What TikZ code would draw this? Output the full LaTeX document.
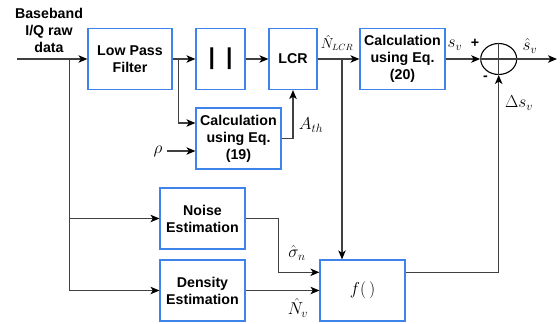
\documentclass[tikz,border=0pt]{standalone}
\usepackage[no-math]{fontspec}
\usepackage{amsmath}
\usetikzlibrary{arrows.meta,positioning,shapes.geometric}

\newfontfamily\arialb{Liberation Sans}
\newcommand\boxfont{\arialb\fontsize{14.2}{17}\selectfont\bfseries}
\newcommand\eqsize{\fontsize{16.5}{19}\selectfont}

\definecolor{boxblue}{RGB}{62,132,235}
\definecolor{linegray}{RGB}{64,64,64}

\begin{document}
\begin{tikzpicture}[%
    x=1pt, y=-1pt,
    >={Stealth[length=9pt,width=7.5pt,inset=2.5pt,color=black]},
    line/.style={draw=linegray, line width=1.1pt},
    blk/.style={draw=boxblue, line width=1.2pt, minimum width=85pt,
                minimum height=61pt, align=center, inner sep=2pt, font=\boxfont},
    lbl/.style={font=\eqsize, inner sep=0pt},
  ]
    \useasboundingbox (0,0) rectangle (560,324);

    % upper chain
    \node[blk, minimum width=84pt] (lpf)  at (130,59)    {Low Pass\\Filter};
    \node[blk, minimum width=49pt] (abs)  at (220.5,59)  {\fontsize{23}{23}\selectfont |\hspace{11pt}|};
    \node[blk, minimum width=48pt] (lcr)  at (293,59)    {LCR};
    \node[blk]                     (eq20) at (402.5,59)  {Calculation\\using Eq.\\(20)};
    \node[ellipse, draw=black, line width=1.1pt, minimum width=36pt,
          minimum height=31pt, inner sep=0pt] (sum) at (498.7,59) {};

    % lower blocks
    \node[blk] (eq19)  at (238.5,138.5) {Calculation\\using Eq.\\(19)};
    \node[blk] (noise) at (202.5,218.5) {Noise\\Estimation};
    \node[blk] (dens)  at (202.5,290.5) {Density\\Estimation};
    \node[blk, font=\fontsize{17}{20}\selectfont] (fn) at (362.5,290.5) {$f(\,)$};

    \node[align=center, font=\boxfont, inner sep=0pt] (src) at (49,30) {Baseband\\I/Q raw\\data};
    \coordinate (in)    at (17,59);
    \coordinate (split) at (69.3,59);
    \coordinate (tap)   at (178.3,59);
    \coordinate (tapb)  at (342,59);
    \coordinate (out)   at (557,59);

    \draw[line,->] (in) -- (lpf);
    \draw[line,->] (split) |- (dens);
    \draw[line,->] (split |- noise) -- (noise);
    \draw[line,->] (lpf) -- (abs);
    \draw[line,->] (tap) |- ([yshift=15.5pt]eq19.west);
    \draw[line,->] (abs) -- (lcr);

    \node[lbl] (rho) at (158,151) {$\rho$};
    \draw[line,->] ([xshift=4pt]rho.east) -- (rho -| eq19.west);

    \draw[line,->] (eq19) -| (lcr);
    \node[lbl] (ath) at (311,125) {$A_{th}$};

    \draw[line,->] (lcr) -- (eq20);
    \node[lbl, font=\fontsize{13.5}{16}\selectfont] (nlcr) at (337,43) {$\hat{N}_{LCR}$};
    \draw[line,->] (tapb) -- (tapb |- fn.north);

    \draw[line,->] (eq20) -- (sum);
    \node[lbl] (sv) at (455,45) {$s_v$};
    \draw[line] (sum.north) -- (sum.south) (sum.west) -- (sum.east);
    \node[font=\boxfont, inner sep=0pt] (plus)  at (475,43) {+};
    \node[font=\boxfont, inner sep=0pt] (minus) at (485.5,78) {-};
    \draw[line,->] (sum) -- (out);
    \node[lbl] (shat) at (530,46) {$\hat{s}_v$};

    \draw[line,->] ([yshift=18.2pt]fn.east) -| (sum);
    \node[lbl] (dsv) at (519,103) {$\Delta s_v$};

    \draw[line,->] (noise.east) -- ++(33.3,0) |- ([yshift=18.2pt]fn.west);
    \node[lbl] (sig) at (297,253) {$\hat{\sigma}_n$};
    \draw[line,->] (dens) -- (fn);
    \node[lbl] (nv) at (298,308) {$\hat{N}_v$};
  \end{tikzpicture}
\end{document}
